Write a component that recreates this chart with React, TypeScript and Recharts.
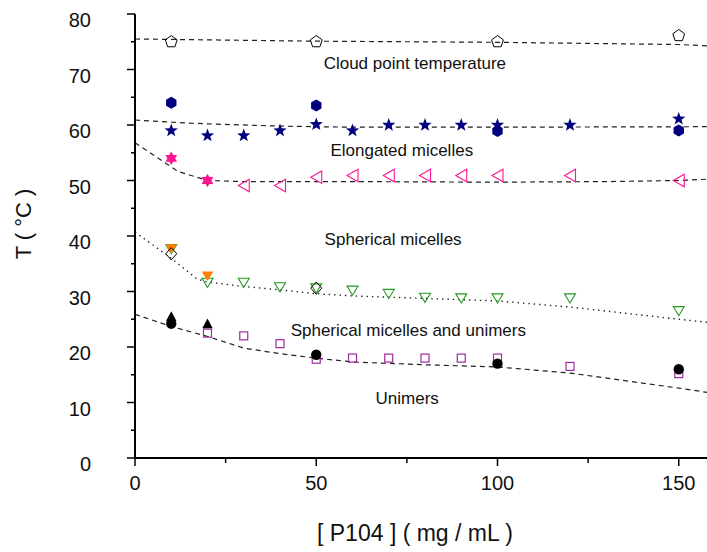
import {
  ComposedChart, Line, Scatter, XAxis, YAxis, ReferenceDot,
} from 'recharts';

// concentration [P104] (mg/mL) vs temperature (°C)
const cloudPoints = [
  { x: 10, y: 75.0 }, { x: 50, y: 75.0 }, { x: 100, y: 75.0 }, { x: 150, y: 76.1 },
];
const elongStars = [
  { x: 10, y: 59.0 }, { x: 20, y: 58.1 }, { x: 30, y: 58.1 }, { x: 40, y: 59.0 },
  { x: 50, y: 60.1 }, { x: 60, y: 59.0 }, { x: 70, y: 60.0 }, { x: 80, y: 60.0 },
  { x: 90, y: 60.0 }, { x: 100, y: 60.0 }, { x: 120, y: 60.0 }, { x: 150, y: 61.1 },
];
const elongHexagons = [
  { x: 10, y: 64.0 }, { x: 50, y: 63.5 }, { x: 100, y: 58.9 }, { x: 150, y: 59.0 },
];
const pinkTriangles = [
  { x: 30, y: 49.1 }, { x: 40, y: 49.1 }, { x: 50, y: 50.6 }, { x: 60, y: 50.9 },
  { x: 70, y: 50.9 }, { x: 80, y: 50.9 }, { x: 90, y: 50.9 }, { x: 100, y: 50.9 },
  { x: 120, y: 50.9 }, { x: 150, y: 50.0 },
];
const pinkHexagrams = [{ x: 10, y: 54.0 }, { x: 20, y: 50.0 }];
const greenTriangles = [
  { x: 10, y: 37.7 }, { x: 20, y: 31.6 }, { x: 30, y: 31.6 }, { x: 40, y: 30.8 },
  { x: 50, y: 30.6 }, { x: 60, y: 30.2 }, { x: 70, y: 29.6 }, { x: 80, y: 28.9 },
  { x: 90, y: 28.8 }, { x: 100, y: 28.8 }, { x: 120, y: 28.8 }, { x: 150, y: 26.5 },
];
const orangeTriangles = [{ x: 10, y: 37.7 }, { x: 20, y: 32.8 }];
const openDiamonds = [{ x: 10, y: 36.8 }, { x: 50, y: 30.6 }];
const blackTriangles = [{ x: 10, y: 25.5 }, { x: 20, y: 24.2 }];
const blackCircles = [
  { x: 10, y: 24.2 }, { x: 50, y: 18.6 }, { x: 100, y: 17.0 }, { x: 150, y: 16.0 },
];
const purpleSquares = [
  { x: 20, y: 22.5 }, { x: 30, y: 22.0 }, { x: 40, y: 20.6 }, { x: 50, y: 17.8 },
  { x: 60, y: 18.0 }, { x: 70, y: 18.0 }, { x: 80, y: 18.0 }, { x: 90, y: 18.0 },
  { x: 100, y: 18.0 }, { x: 120, y: 16.5 }, { x: 150, y: 15.2 },
];

// phase boundaries
const cloudLine = [
  { x: 0, y: 75.5 }, { x: 50, y: 75.1 }, { x: 100, y: 74.9 }, { x: 150, y: 74.5 }, { x: 160, y: 74.2 },
];
const elongLine = [
  { x: 0, y: 60.9 }, { x: 10, y: 60.5 }, { x: 20, y: 60.2 }, { x: 40, y: 59.8 },
  { x: 60, y: 59.6 }, { x: 100, y: 59.6 }, { x: 160, y: 59.7 },
];
const sphereTopLine = [
  { x: 0, y: 56.8 }, { x: 12, y: 51.6 }, { x: 20, y: 50.0 }, { x: 30, y: 49.8 },
  { x: 60, y: 49.8 }, { x: 100, y: 49.7 }, { x: 130, y: 49.8 }, { x: 150, y: 50.0 }, { x: 160, y: 50.3 },
];
const sphereLine = [
  { x: 0, y: 40.7 }, { x: 10, y: 36.0 }, { x: 17, y: 32.3 }, { x: 20, y: 31.7 },
  { x: 30, y: 30.9 }, { x: 40, y: 30.3 }, { x: 50, y: 29.6 }, { x: 60, y: 29.2 },
  { x: 100, y: 28.3 }, { x: 120, y: 27.2 }, { x: 150, y: 25.0 }, { x: 160, y: 24.3 },
];
const unimerLine = [
  { x: 0, y: 25.9 }, { x: 10, y: 23.7 }, { x: 20, y: 21.9 }, { x: 30, y: 19.8 },
  { x: 40, y: 18.8 }, { x: 50, y: 18.0 }, { x: 60, y: 17.3 }, { x: 80, y: 16.8 },
  { x: 100, y: 16.4 }, { x: 120, y: 15.3 }, { x: 150, y: 12.6 }, { x: 160, y: 11.6 },
];

const regionLabels = [
  { x: 77.2, y: 71.2, text: 'Cloud point temperature' },
  { x: 73.6, y: 55.5, text: 'Elongated micelles' },
  { x: 71.2, y: 39.4, text: 'Spherical micelles' },
  { x: 75.4, y: 23.1, text: 'Spherical micelles and unimers' },
  { x: 75.1, y: 10.9, text: 'Unimers' },
];

const xTicks = [0, 25, 50, 75, 100, 125, 150];
const xMajor = [0, 50, 100, 150];
const yTicks = [0, 5, 10, 15, 20, 25, 30, 35, 40, 45, 50, 55, 60, 65, 70, 75, 80];

const NAVY = '#00007f';
const PINK = '#ff1493';
const GREEN = '#229a22';
const ORANGE = '#ff8000';
const PURPLE = '#9e2a9e';
const LINE = '#222';

const polyPts = (cx: number, cy: number, n: number, r: number, rot: number) =>
  Array.from({ length: n }, (_, i) => {
    const a = rot + (i * 2 * Math.PI) / n;
    return `${cx + r * Math.cos(a)},${cy + r * Math.sin(a)}`;
  }).join(' ');

const starPts = (cx: number, cy: number, ro: number, ri: number) =>
  Array.from({ length: 10 }, (_, i) => {
    const a = -Math.PI / 2 + (i * Math.PI) / 5;
    const r = i % 2 === 0 ? ro : ri;
    return `${cx + r * Math.cos(a)},${cy + r * Math.sin(a)}`;
  }).join(' ');

const Star = ({ cx, cy }: any) => <polygon points={starPts(cx, cy, 7, 2.9)} fill={NAVY} />;
const Hexagon = ({ cx, cy }: any) => <polygon points={polyPts(cx, cy, 6, 6, -Math.PI / 2)} fill={NAVY} />;
const Pentagon = ({ cx, cy }: any) => (
  <polygon points={polyPts(cx, cy, 5, 6.2, -Math.PI / 2)} fill="none" stroke="#000" strokeWidth={1} />
);
const TriLeft = ({ cx, cy }: any) => (
  <polygon points={`${cx - 5.5},${cy} ${cx + 5.5},${cy - 6.2} ${cx + 5.5},${cy + 6.2}`} fill="none" stroke={PINK} strokeWidth={1.1} />
);
const Hexagram = ({ cx, cy }: any) => (
  <g fill={PINK}>
    <polygon points={polyPts(cx, cy, 3, 6.8, -Math.PI / 2)} />
    <polygon points={polyPts(cx, cy, 3, 6.8, Math.PI / 2)} />
  </g>
);
const TriDownOpen = ({ cx, cy }: any) => (
  <polygon points={`${cx - 5.5},${cy - 4.3} ${cx + 5.5},${cy - 4.3} ${cx},${cy + 4.8}`} fill="none" stroke={GREEN} strokeWidth={1.1} />
);
const TriDownFill = ({ cx, cy }: any) => (
  <polygon points={`${cx - 5.8},${cy - 4.5} ${cx + 5.8},${cy - 4.5} ${cx},${cy + 5}`} fill={ORANGE} />
);
const Diamond = ({ cx, cy }: any) => (
  <polygon points={`${cx},${cy - 6.2} ${cx + 5.5},${cy} ${cx},${cy + 6.2} ${cx - 5.5},${cy}`} fill="none" stroke="#000" strokeWidth={1} />
);
const TriUp = ({ cx, cy }: any) => (
  <polygon points={`${cx - 5.2},${cy + 4.5} ${cx + 5.2},${cy + 4.5} ${cx},${cy - 5.2}`} fill="#000" />
);
const Dot = ({ cx, cy }: any) => <circle cx={cx} cy={cy} r={5.2} fill="#000" />;
const Square = ({ cx, cy }: any) => (
  <rect x={cx - 4} y={cy - 4} width={8} height={8} fill="none" stroke={PURPLE} strokeWidth={1.2} />
);

const BottomTick = ({ x, y, payload }: any) => {
  const major = xMajor.includes(payload.value);
  return (
    <g>
      <line x1={x} y1={y} x2={x} y2={y + (major ? 8 : 5)} stroke="#000" strokeWidth={1.5} />
      {major && (
        <text x={x} y={y + 32} textAnchor="middle" fontSize={20} fill="#111">{payload.value}</text>
      )}
    </g>
  );
};
const TopTick = ({ x, y, payload }: any) => {
  const major = xMajor.includes(payload.value);
  return <line x1={x} y1={y} x2={x} y2={y + (major ? 8 : 5)} stroke="#000" strokeWidth={1.5} />;
};
const LeftTick = ({ x, y, payload }: any) => {
  const major = payload.value % 10 === 0;
  return (
    <g>
      <line x1={x} y1={y} x2={x - (major ? 8 : 4)} y2={y} stroke="#000" strokeWidth={1.5} />
      {major && (
        <text x={x - 44} y={y + 13} textAnchor="end" fontSize={20} fill="#111">{payload.value}</text>
      )}
    </g>
  );
};
const RightTick = ({ x, y, payload }: any) => {
  const major = payload.value % 10 === 0;
  return <line x1={x} y1={y} x2={x - (major ? 8 : 4)} y2={y} stroke="#000" strokeWidth={1.5} />;
};

const axisLine = { stroke: '#000', strokeWidth: 2 };

export default function App() {
  return (
    <div style={{ position: 'absolute', left: 0, top: 0, width: 707, height: 552, background: '#fff', fontFamily: 'Arial, "Liberation Sans", sans-serif' }}>
      <ComposedChart width={707} height={552} margin={{ top: 14, right: -8, bottom: 34, left: 0 }}>
        <XAxis
          type="number" dataKey="x" domain={[0, 160]} allowDataOverflow ticks={xTicks} interval={0}
          height={60} tickSize={0} tickMargin={0} tickLine={false} axisLine={axisLine} tick={<BottomTick />}
          label={{
            content: ({ viewBox }: any) => (
              <text x={viewBox.x + 280} y={viewBox.y + 83} textAnchor="middle" fontSize={23} fill="#111">
                [ P104 ] ( mg / mL )
              </text>
            ),
          }}
        />
        <XAxis
          xAxisId="top" orientation="top" mirror type="number" domain={[0, 160]} allowDataOverflow
          ticks={xTicks} interval={0} height={0} tickSize={0} tickMargin={0} tickLine={false}
          axisLine={axisLine} tick={<TopTick />}
        />
        <YAxis
          type="number" dataKey="y" domain={[0, 80]} allowDataOverflow ticks={yTicks} interval={0}
          width={135} tickSize={0} tickMargin={0} tickLine={false} axisLine={axisLine} tick={<LeftTick />}
          label={{
            content: () => (
              <text x={31} y={224} transform="rotate(-90, 31, 224)" textAnchor="middle" fontSize={22} fill="#111">
                T ( °C )
              </text>
            ),
          }}
        />
        <YAxis
          yAxisId="right" orientation="right" mirror type="number" domain={[0, 80]} allowDataOverflow
          ticks={yTicks} interval={0} width={0} tickSize={0} tickMargin={0} tickLine={false}
          axisLine={axisLine} tick={<RightTick />}
        />

        <Line data={cloudLine} dataKey="y" stroke={LINE} strokeWidth={1.2} strokeDasharray="5 4" dot={false} activeDot={false} isAnimationActive={false} />
        <Line data={elongLine} dataKey="y" stroke={LINE} strokeWidth={1.2} strokeDasharray="5 4" dot={false} activeDot={false} isAnimationActive={false} />
        <Line data={sphereTopLine} dataKey="y" stroke={LINE} strokeWidth={1.2} strokeDasharray="5 4" dot={false} activeDot={false} isAnimationActive={false} />
        <Line data={sphereLine} dataKey="y" stroke={LINE} strokeWidth={1.4} strokeDasharray="1.4 4" dot={false} activeDot={false} isAnimationActive={false} />
        <Line data={unimerLine} dataKey="y" stroke={LINE} strokeWidth={1.2} strokeDasharray="5 4" dot={false} activeDot={false} isAnimationActive={false} />

        <Scatter data={cloudPoints} shape={(p: any) => <Pentagon {...p} />} isAnimationActive={false} />
        <Scatter data={elongHexagons} shape={(p: any) => <Hexagon {...p} />} isAnimationActive={false} />
        <Scatter data={elongStars} shape={(p: any) => <Star {...p} />} isAnimationActive={false} />
        <Scatter data={pinkTriangles} shape={(p: any) => <TriLeft {...p} />} isAnimationActive={false} />
        <Scatter data={pinkHexagrams} shape={(p: any) => <Hexagram {...p} />} isAnimationActive={false} />
        <Scatter data={greenTriangles} shape={(p: any) => <TriDownOpen {...p} />} isAnimationActive={false} />
        <Scatter data={orangeTriangles} shape={(p: any) => <TriDownFill {...p} />} isAnimationActive={false} />
        <Scatter data={openDiamonds} shape={(p: any) => <Diamond {...p} />} isAnimationActive={false} />
        <Scatter data={purpleSquares} shape={(p: any) => <Square {...p} />} isAnimationActive={false} />
        <Scatter data={blackTriangles} shape={(p: any) => <TriUp {...p} />} isAnimationActive={false} />
        <Scatter data={blackCircles} shape={(p: any) => <Dot {...p} />} isAnimationActive={false} />

        {regionLabels.map((r) => (
          <ReferenceDot
            key={r.text} x={r.x} y={r.y} r={0} fill="none" stroke="none"
            label={{ value: r.text, position: 'center', fontSize: 17, fill: '#111' }}
          />
        ))}
      </ComposedChart>
    </div>
  );
}
